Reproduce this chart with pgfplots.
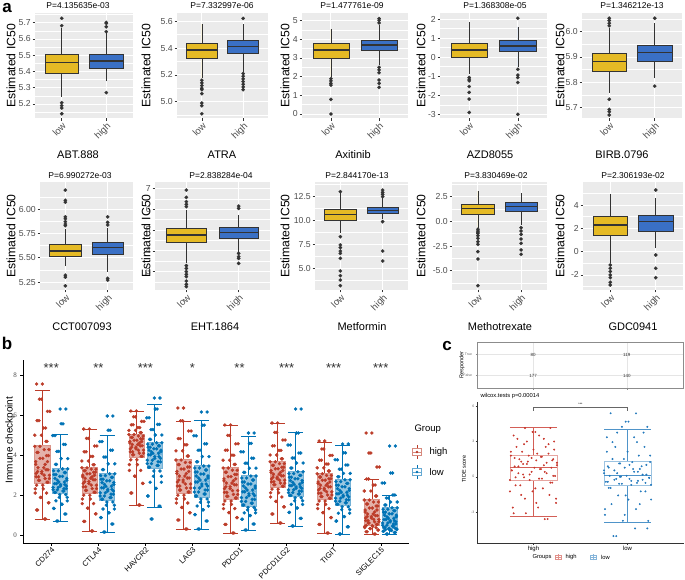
\documentclass[border=0pt]{standalone}
\usepackage{fontspec}
\setmainfont{Liberation Sans}
\newfontfamily\serifnum{Liberation Serif}
\usepackage{pgfplots}
\pgfplotsset{compat=1.18}
\usepackage{pgfplotstable}
\usepgfplotslibrary{statistics}

\definecolor{ggbg}{HTML}{EBEBEB}
\definecolor{ggyel}{HTML}{E5BA25}
\definecolor{ggblu}{HTML}{3A70C5}
\definecolor{ggdark}{HTML}{333333}
\definecolor{ggtick}{HTML}{4D4D4D}
\definecolor{nred}{HTML}{BC3C29}
\definecolor{nblu}{HTML}{0072B5}
\definecolor{cred}{HTML}{C8372D}
\definecolor{cblu}{HTML}{2379BC}
\newcommand{\fs}[1]{\fontsize{#1}{#1}\selectfont}

\pgfplotsset{
 pa/.style={scale only axis, anchor=north west,
  axis background/.style={fill=ggbg}, axis line style={draw=none},
  xmin=0.4, xmax=2.6, xtick={1,2}, xticklabels={low,high},
  x tick label style={rotate=45, anchor=north east, font=\fs{9.5}, text=ggtick, inner sep=0.5pt},
  y tick label style={font=\fs{8.7}, text=ggtick, inner sep=1.5pt},
  tick pos=left, tick align=outside, major tick length=2.5pt, minor tick length=0pt,
  tick style={ggdark, line width=0.5pt},
  grid=both, major grid style={white, line width=0.9pt}, minor grid style={white, line width=0.45pt},
  clip=false, boxplot/draw direction=y},
 bxa/.style={boxplot prepared={box extend=0.75, whisker extend=0, #1}, draw=ggdark, line width=0.55pt,
  mark=*, mark size=1.8pt, mark options={fill=ggdark, draw=ggdark, line width=0.1pt},
  boxplot/every median/.style={line width=1.4pt}},
 bb/.style 2 args={boxplot prepared={box extend=0.32, whisker extend=0.32, #1}, draw=#2, line width=0.6pt,
  boxplot/every box/.style={draw=#2!55, fill=#2, fill opacity=0.4},
  boxplot/every median/.style={draw=#2!55}},
 pts/.style={only marks, mark=*, mark size=1.5pt, color=#1, mark options={draw=none, fill=#1}},
 pcp/.style={only marks, mark=*, mark size=0.75pt, color=#1, mark options={draw=none, fill=#1}},
 pc/.style 2 args={boxplot prepared={box extend=0.5, whisker extend=0.5, #1}, draw=#2!80, line width=0.5pt,
  boxplot/every box/.style={draw=#2!45}},
}

\pgfplotstableread{
dxA dxB g1 g2 g3 g4 g5 g6 g7 g8 g9 g10 g11 g12 g13 g14 g15 g16
0.05 -0.07 0.80 0.70 0.20 0.15 1.50 0.80 0.30 0.30 0.10 0.25 0.60 0.45 0.10 0.05 0.05 0.05
-0.12 0.10 1.25 1.05 0.68 0.55 2.10 1.44 0.75 0.70 0.53 0.55 1.05 0.83 0.53 0.41 0.16 0.13
0.14 -0.13 1.61 1.33 1.06 0.87 2.58 1.95 1.11 1.02 0.87 0.79 1.41 1.13 0.87 0.70 0.25 0.19
-0.03 0.04 1.88 1.54 1.34 1.11 2.94 2.33 1.38 1.26 1.12 0.97 1.68 1.35 1.12 0.92 0.32 0.23
0.09 0.15 2.10 1.71 1.57 1.30 3.23 2.64 1.60 1.45 1.32 1.11 1.90 1.53 1.32 1.09 0.37 0.27
-0.15 -0.02 2.31 1.88 1.80 1.49 3.52 2.94 1.81 1.64 1.53 1.26 2.11 1.71 1.53 1.27 0.43 0.30
0.01 0.12 2.49 2.02 1.99 1.65 3.76 3.20 1.99 1.80 1.70 1.38 2.29 1.86 1.70 1.41 0.47 0.33
0.12 -0.10 2.64 2.13 2.14 1.79 3.94 3.39 2.15 1.95 1.85 1.50 2.44 1.98 1.84 1.54 0.53 0.38
-0.08 0.06 2.73 2.20 2.23 1.87 4.01 3.48 2.25 2.05 1.94 1.59 2.51 2.05 1.92 1.61 0.60 0.44
0.06 -0.15 2.82 2.26 2.32 1.95 4.09 3.57 2.35 2.15 2.03 1.68 2.59 2.12 2.00 1.69 0.66 0.49
-0.13 0.08 2.91 2.32 2.41 2.04 4.16 3.66 2.45 2.25 2.13 1.78 2.66 2.19 2.09 1.76 0.72 0.55
0.15 -0.04 2.99 2.38 2.49 2.11 4.24 3.74 2.55 2.35 2.22 1.87 2.74 2.26 2.16 1.84 0.78 0.60
-0.01 0.13 3.08 2.45 2.58 2.20 4.31 3.83 2.65 2.45 2.32 1.97 2.81 2.33 2.25 1.91 0.85 0.66
-0.10 0.01 3.17 2.51 2.67 2.28 4.39 3.92 2.75 2.55 2.41 2.06 2.89 2.40 2.33 1.99 0.91 0.71
0.08 -0.12 3.26 2.57 2.76 2.36 4.46 4.01 2.85 2.65 2.51 2.16 2.96 2.47 2.41 2.06 0.97 0.77
0.03 0.09 3.37 2.65 2.84 2.44 4.53 4.09 2.95 2.75 2.60 2.25 3.04 2.54 2.49 2.14 1.05 0.84
-0.14 -0.06 3.53 2.74 2.91 2.53 4.60 4.16 3.07 2.85 2.71 2.35 3.13 2.63 2.57 2.23 1.15 0.91
0.11 0.14 3.67 2.83 2.99 2.62 4.67 4.24 3.18 2.95 2.81 2.45 3.22 2.72 2.65 2.32 1.25 0.99
-0.05 -0.01 3.83 2.93 3.06 2.71 4.74 4.31 3.30 3.05 2.92 2.55 3.31 2.81 2.74 2.41 1.35 1.06
0.13 -0.09 3.97 3.02 3.14 2.79 4.81 4.39 3.40 3.15 3.03 2.65 3.39 2.89 2.81 2.49 1.45 1.14
-0.09 0.11 4.13 3.12 3.21 2.88 4.88 4.46 3.52 3.25 3.14 2.75 3.48 2.98 2.90 2.58 1.55 1.21
0.04 -0.14 4.27 3.21 3.29 2.97 4.95 4.54 3.63 3.35 3.24 2.85 3.57 3.07 2.98 2.67 1.65 1.29
-0.16 0.05 4.43 3.31 3.36 3.06 5.02 4.61 3.75 3.45 3.35 2.95 3.66 3.16 3.06 2.76 1.75 1.36
0.10 -0.08 4.68 3.53 3.51 3.27 5.12 4.78 3.95 3.66 3.53 3.13 3.81 3.35 3.20 2.91 1.95 1.50
-0.02 0.16 4.99 3.82 3.70 3.56 5.23 5.00 4.21 3.92 3.74 3.34 4.00 3.60 3.36 3.08 2.20 1.65
0.07 -0.03 5.35 4.18 3.93 3.90 5.37 5.27 4.51 4.24 3.99 3.59 4.23 3.85 3.55 3.29 2.50 1.85
-0.11 0.07 5.72 4.53 4.16 4.24 5.51 5.53 4.82 4.56 4.24 3.84 4.46 4.10 3.74 3.50 2.80 2.00
0.16 -0.11 6.18 4.97 4.45 4.67 5.68 5.86 5.20 4.96 4.56 4.16 4.75 4.50 3.98 3.76 3.40 2.60
-0.06 0.02 6.79 5.56 4.83 5.24 5.91 6.30 5.71 5.49 4.98 4.58 5.13 5.10 4.30 4.11 4.10 3.10
0.00 0.12 7.55 6.30 5.30 5.95 6.20 6.85 6.35 6.15 5.50 5.10 5.60 6.30 4.70 4.55 5.10 4.45
}\bdata

\pgfplotstableread{
dxC dxD h l
0.12 -0.15 -3.60 -5.05
-0.21 0.08 -3.11 -4.40
0.05 0.22 -2.62 -3.75
0.24 -0.03 -2.23 -3.24
-0.09 -0.24 -1.87 -2.76
0.17 0.13 -1.55 -2.33
-0.25 0.01 -1.25 -1.94
0.02 -0.10 -0.99 -1.59
-0.14 0.19 -0.73 -1.25
0.20 -0.18 -0.50 -0.95
-0.04 0.25 -0.28 -0.69
0.09 -0.06 -0.16 -0.60
-0.19 0.10 -0.05 -0.52
0.23 -0.21 0.07 -0.43
-0.11 0.04 0.19 -0.35
0.14 0.16 0.30 -0.26
-0.02 -0.12 0.42 -0.18
-0.23 0.23 0.54 -0.09
0.07 -0.08 0.65 0.00
0.19 -0.01 0.77 0.08
-0.16 0.20 0.88 0.18
0.11 -0.25 0.98 0.30
-0.07 0.11 1.09 0.42
0.25 -0.14 1.19 0.54
-0.13 0.06 1.29 0.66
0.03 -0.20 1.39 0.77
0.21 0.15 1.49 0.89
-0.20 0.02 1.60 1.01
0.08 -0.09 1.70 1.13
-0.05 0.24 1.80 1.25
0.16 -0.04 1.97 1.51
-0.24 0.12 2.13 1.80
0.00 -0.22 2.31 2.13
0.13 0.18 2.54 2.54
-0.10 -0.16 2.77 2.95
0.22 0.07 3.00 3.36
-0.17 -0.11 3.23 3.76
0.06 0.21 3.51 4.25
-0.01 -0.02 3.81 4.69
0.18 0.09 4.15 5.40
}\cdata

\begin{document}
\begin{tikzpicture}
\useasboundingbox (0pt,0pt) rectangle (685pt,579pt);

% ---------------- panel a, row 1 ----------------
\begin{axis}[pa, at={(35pt,565.7pt)}, width=98pt, height=105pt, ymin=5.112, ymax=5.758,
 ytick={5.2,5.3,5.4,5.5,5.6,5.7}, yticklabels={5.2,5.3,5.4,5.5,5.6,5.7}, minor ytick={5.15,5.25,5.35,5.45,5.55,5.65,5.75}]
\addplot[bxa={draw position=1, lower whisker=5.245, lower quartile=5.386, median=5.455, upper quartile=5.504, upper whisker=5.665}, fill=ggyel] table[row sep=\\, y index=0] {y\\5.682\\5.727\\5.208\\5.19\\5.175\\5.14\\};
\addplot[bxa={draw position=2, lower whisker=5.339, lower quartile=5.42, median=5.465, upper quartile=5.506, upper whisker=5.637}, fill=ggblu] table[row sep=\\, y index=0] {y\\5.645\\5.675\\5.696\\5.702\\5.27\\};
\end{axis}

\begin{axis}[pa, at={(177pt,565.7pt)}, width=91pt, height=105pt, ymin=4.876, ymax=5.66,
 ytick={5.0,5.2,5.4,5.6}, yticklabels={5.0,5.2,5.4,5.6}, minor ytick={4.9,5.1,5.3,5.5}]
\addplot[bxa={draw position=1, lower whisker=5.174, lower quartile=5.324, median=5.386, upper quartile=5.436, upper whisker=5.58}, fill=ggyel] table[row sep=\\, y index=0] {y\\5.16\\5.14\\5.12\\5.10\\5.09\\5.06\\4.99\\4.97\\4.91\\};
\addplot[bxa={draw position=2, lower whisker=5.224, lower quartile=5.36, median=5.41, upper quartile=5.46, upper whisker=5.58}, fill=ggblu] table[row sep=\\, y index=0] {y\\5.622\\5.21\\5.19\\5.17\\5.15\\5.13\\5.11\\5.09\\};
\end{axis}

\begin{axis}[pa, at={(302pt,565.7pt)}, width=106pt, height=105pt, ymin=-0.231, ymax=5.395,
 ytick={0,1,2,3,4,5}, yticklabels={0,1,2,3,4,5}, minor ytick={0.5,1.5,2.5,3.5,4.5}]
\addplot[bxa={draw position=1, lower whisker=2.0, lower quartile=2.98, median=3.43, upper quartile=3.79, upper whisker=4.54}, fill=ggyel] table[row sep=\\, y index=0] {y\\1.89\\1.77\\1.64\\1.55\\0.78\\0.0\\};
\addplot[bxa={draw position=2, lower whisker=2.63, lower quartile=3.39, median=3.70, upper quartile=3.93, upper whisker=4.77}, fill=ggblu] table[row sep=\\, y index=0] {y\\5.11\\5.02\\4.88\\2.5\\2.36\\2.21\\1.82\\1.64\\1.43\\};
\end{axis}

\begin{axis}[pa, at={(440pt,565.7pt)}, width=107pt, height=105pt, ymin=-3.207, ymax=2.299,
 ytick={-3,-2,-1,0,1,2}, yticklabels={-3,-2,-1,0,1,2}, minor ytick={-2.5,-1.5,-0.5,0.5,1.5}]
\addplot[bxa={draw position=1, lower whisker=-0.88, lower quartile=-0.01, median=0.37, upper quartile=0.73, upper whisker=1.85}, fill=ggyel] table[row sep=\\, y index=0] {y\\-1.07\\-1.16\\-1.24\\-1.54\\-1.85\\-2.2\\-2.9\\};
\addplot[bxa={draw position=2, lower whisker=-0.5, lower quartile=0.29, median=0.58, upper quartile=0.86, upper whisker=1.6}, fill=ggblu] table[row sep=\\, y index=0] {y\\2.04\\-0.64\\-0.94\\-1.07\\-1.33\\-3.0\\};
\end{axis}

\begin{axis}[pa, at={(582pt,565.7pt)}, width=100pt, height=105pt, ymin=5.658, ymax=6.0725,
 ytick={5.7,5.8,5.9,6.0}, yticklabels={5.7,5.8,5.9,6.0}, minor ytick={5.75,5.85,5.95,6.05}]
\addplot[bxa={draw position=1, lower whisker=5.757, lower quartile=5.842, median=5.882, upper quartile=5.915, upper whisker=6.013}, fill=ggyel] table[row sep=\\, y index=0] {y\\6.023\\6.033\\6.044\\6.053\\5.733\\5.693\\5.684\\5.671\\};
\addplot[bxa={draw position=2, lower whisker=5.816, lower quartile=5.885, median=5.917, upper quartile=5.947, upper whisker=6.033}, fill=ggblu] table[row sep=\\, y index=0] {y\\6.053\\5.785\\};
\end{axis}

% ---------------- panel a, row 2 ----------------
\begin{axis}[pa, at={(40pt,397.3pt)}, width=93pt, height=108.3pt, ymin=5.168, ymax=6.281,
 ytick={5.25,5.5,5.75,6.0}, yticklabels={5.25,5.50,5.75,6.00}, minor ytick={5.375,5.625,5.875,6.125}]
\addplot[bxa={draw position=1, lower whisker=5.41, lower quartile=5.517, median=5.568, upper quartile=5.64, upper whisker=5.80}, fill=ggyel] table[row sep=\\, y index=0] {y\\5.83\\5.846\\5.87\\5.9\\5.92\\6.07\\6.09\\6.195\\5.32\\5.30\\5.21\\};
\addplot[bxa={draw position=2, lower whisker=5.356, lower quartile=5.538, median=5.603, upper quartile=5.658, upper whisker=5.81}, fill=ggblu] table[row sep=\\, y index=0] {y\\5.836\\5.863\\5.92\\5.288\\5.27\\};
\end{axis}

\begin{axis}[pa, at={(155pt,397.3pt)}, width=115pt, height=108.3pt, ymin=2.12, ymax=7.32,
 ytick={3,4,5,6,7}, yticklabels={3,4,5,6,7}, minor ytick={2.5,3.5,4.5,5.5,6.5}]
\addplot[bxa={draw position=1, lower whisker=3.4, lower quartile=4.39, median=4.76, upper quartile=5.08, upper whisker=5.96}, fill=ggyel] table[row sep=\\, y index=0] {y\\6.12\\6.23\\6.36\\6.57\\6.92\\3.29\\3.16\\3.0\\2.87\\2.76\\2.55\\2.39\\2.28\\};
\addplot[bxa={draw position=2, lower whisker=3.93, lower quartile=4.6, median=4.87, upper quartile=5.11, upper whisker=5.72}, fill=ggblu] table[row sep=\\, y index=0] {y\\6.04\\6.15\\3.88\\3.72\\3.64\\3.4\\};
\end{axis}

\begin{axis}[pa, at={(315pt,397.3pt)}, width=93pt, height=108.3pt, ymin=2.78, ymax=14.06,
 ytick={5,7.5,10,12.5}, yticklabels={5.0,7.5,10.0,12.5}, minor ytick={3.75,6.25,8.75,11.25,13.75}]
\addplot[bxa={draw position=1, lower whisker=8.68, lower quartile=10.0, median=10.66, upper quartile=11.18, upper whisker=12.85}, fill=ggyel] table[row sep=\\, y index=0] {y\\13.02\\8.33\\7.47\\7.19\\6.84\\6.6\\6.08\\4.76\\4.27\\3.82\\3.23\\};
\addplot[bxa={draw position=2, lower whisker=10.17, lower quartile=10.73, median=11.04, upper quartile=11.35, upper whisker=12.33}, fill=ggblu] table[row sep=\\, y index=0] {y\\12.5\\12.74\\12.95\\13.19\\9.9\\6.84\\5.8\\};
\end{axis}

\begin{axis}[pa, at={(452pt,397.3pt)}, width=95pt, height=108.3pt, ymin=-6.96, ymax=4.02,
 ytick={-5,-2.5,0,2.5}, yticklabels={-5.0,-2.5,0.0,2.5}, minor ytick={-6.25,-3.75,-1.25,1.25,3.75}]
\addplot[bxa={draw position=1, lower whisker=-0.64, lower quartile=0.71, median=1.32, upper quartile=1.76, upper whisker=3.07}, fill=ggyel] table[row sep=\\, y index=0] {y\\-0.8\\-0.98\\-1.1\\-1.22\\-1.45\\-1.72\\-2.06\\-2.33\\-3.07\\-3.82\\-6.52\\};
\addplot[bxa={draw position=2, lower whisker=-0.37, lower quartile=0.98, median=1.49, upper quartile=1.89, upper whisker=2.84}, fill=ggblu] table[row sep=\\, y index=0] {y\\-0.64\\-0.98\\-1.32\\-1.79\\-2.23\\-2.9\\-3.34\\};
\end{axis}

\begin{axis}[pa, at={(583pt,397.3pt)}, width=100pt, height=108.3pt, ymin=-3.29, ymax=6.0,
 ytick={-2,0,2,4}, yticklabels={-2,0,2,4}, minor ytick={-3,-1,1,3,5}]
\addplot[bxa={draw position=1, lower whisker=-1.0, lower quartile=1.37, median=2.29, upper quartile=3.06, upper whisker=4.91}, fill=ggyel] table[row sep=\\, y index=0] {y\\-1.14\\-1.43\\-1.71\\-2.0\\-2.23\\-2.63\\-2.86\\};
\addplot[bxa={draw position=2, lower whisker=0.29, lower quartile=1.77, median=2.57, upper quartile=3.14, upper whisker=4.57}, fill=ggblu] table[row sep=\\, y index=0] {y\\5.29\\-0.29\\-1.43\\-2.23\\};
\end{axis}

% titles, y labels, drug names (panel a)
\begin{scope}[every node/.style={font=\fs{8.5}}]
\node at (78pt,573.3pt) {P=4.135635e-03};
\node at (222pt,573.3pt) {P=7.332997e-06};
\node at (352pt,573.3pt) {P=1.477761e-09};
\node at (495pt,573.3pt) {P=1.368308e-05};
\node at (632pt,573.3pt) {P=1.346212e-13};
\node at (80pt,403.3pt) {P=6.990272e-03};
\node at (221pt,403.3pt) {P=2.838284e-04};
\node at (357pt,403.3pt) {P=2.844170e-13};
\node at (496pt,403.3pt) {P=3.830469e-02};
\node at (633pt,403.3pt) {P=2.306193e-02};
\end{scope}
\begin{scope}[every node/.style={font=\fs{12.2}, rotate=90}]
\foreach \xx in {11,146,285,421,560} {
 \node at (\xx pt,513.2pt) {Estimated IC50};
 \node at (\xx pt,343pt) {Estimated IC50};
}
\end{scope}
\begin{scope}[every node/.style={font=\fs{11}}]
\node at (78pt,424pt) {ABT.888};
\node at (222pt,424pt) {ATRA};
\node at (353pt,424pt) {Axitinib};
\node at (490pt,424pt) {AZD8055};
\node at (622pt,424pt) {BIRB.0796};
\node at (82pt,252.3pt) {CCT007093};
\node at (215pt,252.3pt) {EHT.1864};
\node at (362pt,252.3pt) {Metformin};
\node at (500pt,252.3pt) {Methotrexate};
\node at (633pt,252.3pt) {GDC0941};
\end{scope}
\node[font=\fs{17}\bfseries] at (7pt,571pt) {a};
\node[font=\fs{17}\bfseries] at (7pt,236pt) {b};
\node[font=\fs{17}\bfseries] at (447pt,233pt) {c};

% ---------------- panel b ----------------
\begin{axis}[scale only axis, at={(23pt,36pt)}, anchor=south west, width=386pt, height=183pt,
 xmin=-0.6, xmax=7.6, ymin=-0.4, ymax=8.75,
 axis x line*=bottom, axis y line*=left, axis line style={-, black, line width=0.6pt},
 xtick={0,1,2,3,4,5,6,7}, xticklabels={CD274,CTLA4,HAVCR2,LAG3,PDCD1,PDCD1LG2,TIGIT,SIGLEC15},
 x tick label style={rotate=45, anchor=north east, font=\fs{7.6}, inner sep=0.8pt},
 ytick={0,2,4,6,8}, yticklabels={0,2,4,6,8}, y tick label style={font=\serifnum\fs{7}, text=ggtick},
 tick align=outside, major tick length=2.5pt, tick style={black, line width=0.5pt},
 clip=false, boxplot/draw direction=y]
\addplot[bb={draw position=-0.19, lower whisker=0.8, lower quartile=2.6, median=3.3, upper quartile=4.5, upper whisker=7.25}{nred}] coordinates {};
\addplot[bb={draw position=0.19, lower whisker=0.7, lower quartile=2.1, median=2.6, upper quartile=3.35, upper whisker=5.05}{nblu}] coordinates {};
\addplot[bb={draw position=0.81, lower whisker=0.2, lower quartile=2.1, median=2.8, upper quartile=3.4, upper whisker=5.3}{nred}] coordinates {};
\addplot[bb={draw position=1.19, lower whisker=0.15, lower quartile=1.75, median=2.4, upper quartile=3.1, upper whisker=5.0}{nblu}] coordinates {};
\addplot[bb={draw position=1.81, lower whisker=1.5, lower quartile=3.9, median=4.5, upper quartile=5.05, upper whisker=6.2}{nred}] coordinates {};
\addplot[bb={draw position=2.19, lower whisker=1.4, lower quartile=3.35, median=4.05, upper quartile=4.65, upper whisker=6.55}{nblu}] coordinates {};
\addplot[bb={draw position=2.81, lower whisker=0.3, lower quartile=2.1, median=2.9, upper quartile=3.8, upper whisker=5.7}{nred}] coordinates {};
\addplot[bb={draw position=3.19, lower whisker=0.3, lower quartile=1.9, median=2.7, upper quartile=3.5, upper whisker=5.75}{nblu}] coordinates {};
\addplot[bb={draw position=3.81, lower whisker=0.1, lower quartile=1.8, median=2.55, upper quartile=3.4, upper whisker=5.5}{nred}] coordinates {};
\addplot[bb={draw position=4.19, lower whisker=0.25, lower quartile=1.45, median=2.2, upper quartile=3.0, upper whisker=4.95}{nblu}] coordinates {};
\addplot[bb={draw position=4.81, lower whisker=0.6, lower quartile=2.4, median=3.0, upper quartile=3.7, upper whisker=5.6}{nred}] coordinates {};
\addplot[bb={draw position=5.19, lower whisker=0.45, lower quartile=1.95, median=2.5, upper quartile=3.2, upper whisker=5.15}{nblu}] coordinates {};
\addplot[bb={draw position=5.81, lower whisker=0.1, lower quartile=1.8, median=2.45, upper quartile=3.1, upper whisker=4.65}{nred}] coordinates {};
\addplot[bb={draw position=6.19, lower whisker=0.05, lower quartile=1.5, median=2.1, upper quartile=2.8, upper whisker=4.5}{nblu}] coordinates {};
\addplot[bb={draw position=6.81, lower whisker=0.05, lower quartile=0.5, median=1.0, upper quartile=1.8, upper whisker=2.8}{nred}] coordinates {};
\addplot[bb={draw position=7.19, lower whisker=0.05, lower quartile=0.35, median=0.8, upper quartile=1.4, upper whisker=2.0}{nblu}] coordinates {};
% jittered points, two jitter layers per group
\addplot[pts=nred] table[x expr=\thisrow{dxA}-0.19, y=g1] {\bdata};
\addplot[pts=nred] table[x expr=-\thisrow{dxB}-0.19, y=g1] {\bdata};
\addplot[pts=nblu] table[x expr=\thisrow{dxB}+0.19, y=g2] {\bdata};
\addplot[pts=nblu] table[x expr=-\thisrow{dxA}+0.19, y=g2] {\bdata};
\addplot[pts=nred] table[x expr=\thisrow{dxA}+0.81, y=g3] {\bdata};
\addplot[pts=nred] table[x expr=-\thisrow{dxB}+0.81, y=g3] {\bdata};
\addplot[pts=nblu] table[x expr=\thisrow{dxB}+1.19, y=g4] {\bdata};
\addplot[pts=nblu] table[x expr=-\thisrow{dxA}+1.19, y=g4] {\bdata};
\addplot[pts=nred] table[x expr=\thisrow{dxA}+1.81, y=g5] {\bdata};
\addplot[pts=nred] table[x expr=-\thisrow{dxB}+1.81, y=g5] {\bdata};
\addplot[pts=nblu] table[x expr=\thisrow{dxB}+2.19, y=g6] {\bdata};
\addplot[pts=nblu] table[x expr=-\thisrow{dxA}+2.19, y=g6] {\bdata};
\addplot[pts=nred] table[x expr=\thisrow{dxA}+2.81, y=g7] {\bdata};
\addplot[pts=nred] table[x expr=-\thisrow{dxB}+2.81, y=g7] {\bdata};
\addplot[pts=nblu] table[x expr=\thisrow{dxB}+3.19, y=g8] {\bdata};
\addplot[pts=nblu] table[x expr=-\thisrow{dxA}+3.19, y=g8] {\bdata};
\addplot[pts=nred] table[x expr=\thisrow{dxA}+3.81, y=g9] {\bdata};
\addplot[pts=nred] table[x expr=-\thisrow{dxB}+3.81, y=g9] {\bdata};
\addplot[pts=nblu] table[x expr=\thisrow{dxB}+4.19, y=g10] {\bdata};
\addplot[pts=nblu] table[x expr=-\thisrow{dxA}+4.19, y=g10] {\bdata};
\addplot[pts=nred] table[x expr=\thisrow{dxA}+4.81, y=g11] {\bdata};
\addplot[pts=nred] table[x expr=-\thisrow{dxB}+4.81, y=g11] {\bdata};
\addplot[pts=nblu] table[x expr=\thisrow{dxB}+5.19, y=g12] {\bdata};
\addplot[pts=nblu] table[x expr=-\thisrow{dxA}+5.19, y=g12] {\bdata};
\addplot[pts=nred] table[x expr=\thisrow{dxA}+5.81, y=g13] {\bdata};
\addplot[pts=nred] table[x expr=-\thisrow{dxB}+5.81, y=g13] {\bdata};
\addplot[pts=nblu] table[x expr=\thisrow{dxB}+6.19, y=g14] {\bdata};
\addplot[pts=nblu] table[x expr=-\thisrow{dxA}+6.19, y=g14] {\bdata};
\addplot[pts=nred] table[x expr=\thisrow{dxA}+6.81, y=g15] {\bdata};
\addplot[pts=nred] table[x expr=-\thisrow{dxB}+6.81, y=g15] {\bdata};
\addplot[pts=nblu] table[x expr=\thisrow{dxB}+7.19, y=g16] {\bdata};
\addplot[pts=nblu] table[x expr=-\thisrow{dxA}+7.19, y=g16] {\bdata};
\foreach \cc/\ss in {0/***,1/**,2/***,3/*,4/**,5/***,6/***,7/***} {
 \edef\tmp{\noexpand\node[font=\noexpand\fs{13}, text=ggdark] at (axis cs:\cc,8.35) {\ss};}\tmp
}
\end{axis}
\node[font=\fs{10}, rotate=90] at (10pt,139pt) {Immune checkpoint};
% legend b
\node[font=\fs{9.5}, anchor=west] at (411pt,150pt) {Group};
\draw[nred, line width=0.6pt] (417pt,120pt) -- (417pt,134pt);
\draw[nred!60, line width=0.6pt, fill=white] (412.5pt,123.5pt) rectangle (421.5pt,130.5pt);
\draw[nred!60, line width=0.6pt] (412.5pt,127pt) -- (421.5pt,127pt);
\fill[nred] (417pt,127pt) circle (1.3pt);
\node[font=\fs{9.5}, anchor=west] at (426pt,127pt) {high};
\draw[nblu, line width=0.6pt] (417pt,100pt) -- (417pt,114pt);
\draw[nblu!60, line width=0.6pt, fill=white] (412.5pt,103.5pt) rectangle (421.5pt,110.5pt);
\draw[nblu!60, line width=0.6pt] (412.5pt,107pt) -- (421.5pt,107pt);
\fill[nblu] (417pt,107pt) circle (1.3pt);
\node[font=\fs{9.5}, anchor=west] at (426pt,107pt) {low};

% ---------------- panel c, top table ----------------
\begin{axis}[scale only axis, at={(477pt,237pt)}, anchor=north west, width=206pt, height=46pt,
 xmin=0.4, xmax=2.6, ymin=0.4, ymax=2.6, xtick={1,2}, xticklabels={,}, ytick={1,2}, yticklabels={False,True},
 grid=major, major grid style={black!10, line width=0.4pt}, axis line style={black!45, line width=0.6pt},
 y tick label style={font=\fs{3.5}, text=black!60}, tick style={black!45}, major tick length=1.5pt,
 tick align=outside, tick pos=left]
\addplot[only marks, mark=none, nodes near coords, point meta=explicit symbolic,
 every node near coord/.style={font=\fs{4.5}, text=ggdark, anchor=center}] table[meta=lab] {
x y lab
1 2 80
1 1 177
2 2 119
2 1 140
};
\end{axis}
\node[font=\fs{5.5}, rotate=90] at (462pt,214pt) {Responder};
\node[font=\fs{5.8}, anchor=west] at (477pt,183pt) {wilcox.tests p=0.00014};

% ---------------- panel c, TIDE ----------------
\begin{axis}[scale only axis, at={(477pt,36pt)}, anchor=south west, width=207pt, height=141.2pt,
 xmin=0.4, xmax=2.6, ymin=-5.64, ymax=6.38,
 axis x line*=bottom, axis y line*=left, axis line style={-, ggdark, line width=0.5pt},
 xtick={1,2}, xticklabels={high,low}, x tick label style={font=\fs{6}, inner sep=1pt},
 ytick={-3,0,3,6}, yticklabels={-3,0,3,6}, y tick label style={font=\fs{3.5}, text=black!60, inner sep=1pt},
 tick align=outside, major tick length=1.5pt, tick style={ggdark, line width=0.4pt},
 clip=false, boxplot/draw direction=y]
\addplot[pc={draw position=1, lower whisker=-3.38, lower quartile=-0.34, median=0.83, upper quartile=1.85, upper whisker=4.2}{cred}] coordinates {};
\addplot[pc={draw position=2, lower whisker=-3.88, lower quartile=-0.73, median=0.12, upper quartile=1.31, upper whisker=4.06}{cblu}] coordinates {};
\addplot[pcp=cred] table[x expr=\thisrow{dxC}+1, y=h] {\cdata};
\addplot[pcp=cred] table[x expr=1-\thisrow{dxD}, y=h] {\cdata};
\addplot[pcp=cblu] table[x expr=\thisrow{dxD}+2, y=l] {\cdata};
\addplot[pcp=cblu] table[x expr=2-\thisrow{dxC}, y=l] {\cdata};
\draw[black!60, line width=0.4pt] (axis cs:1,5.6) -- (axis cs:1,5.9) -- (axis cs:2,5.9) -- (axis cs:2,5.6);
\node[font=\fs{3.5}] at (axis cs:1.5,6.15) {***};
\end{axis}
\node[font=\fs{5.5}, rotate=90] at (464pt,110pt) {TIDE score};
% legend c
\node[font=\fs{5.8}, anchor=west] at (529pt,21.7pt) {Groups};
\draw[cred!55, line width=0.4pt] (558pt,18.7pt) -- (558pt,24.7pt);
\draw[cred!55, line width=0.4pt] (555pt,19.7pt) rectangle (561pt,23.7pt);
\draw[cred!55, line width=0.4pt] (555pt,21.7pt) -- (561pt,21.7pt);
\node[font=\fs{5.8}, anchor=west] at (562pt,21.7pt) {high};
\draw[cblu!55, line width=0.4pt] (593.5pt,18.7pt) -- (593.5pt,24.7pt);
\draw[cblu!55, line width=0.4pt] (590.5pt,19.7pt) rectangle (596.5pt,23.7pt);
\draw[cblu!55, line width=0.4pt] (590.5pt,21.7pt) -- (596.5pt,21.7pt);
\node[font=\fs{5.8}, anchor=west] at (597.5pt,21.7pt) {low};
\end{tikzpicture}
\end{document}
